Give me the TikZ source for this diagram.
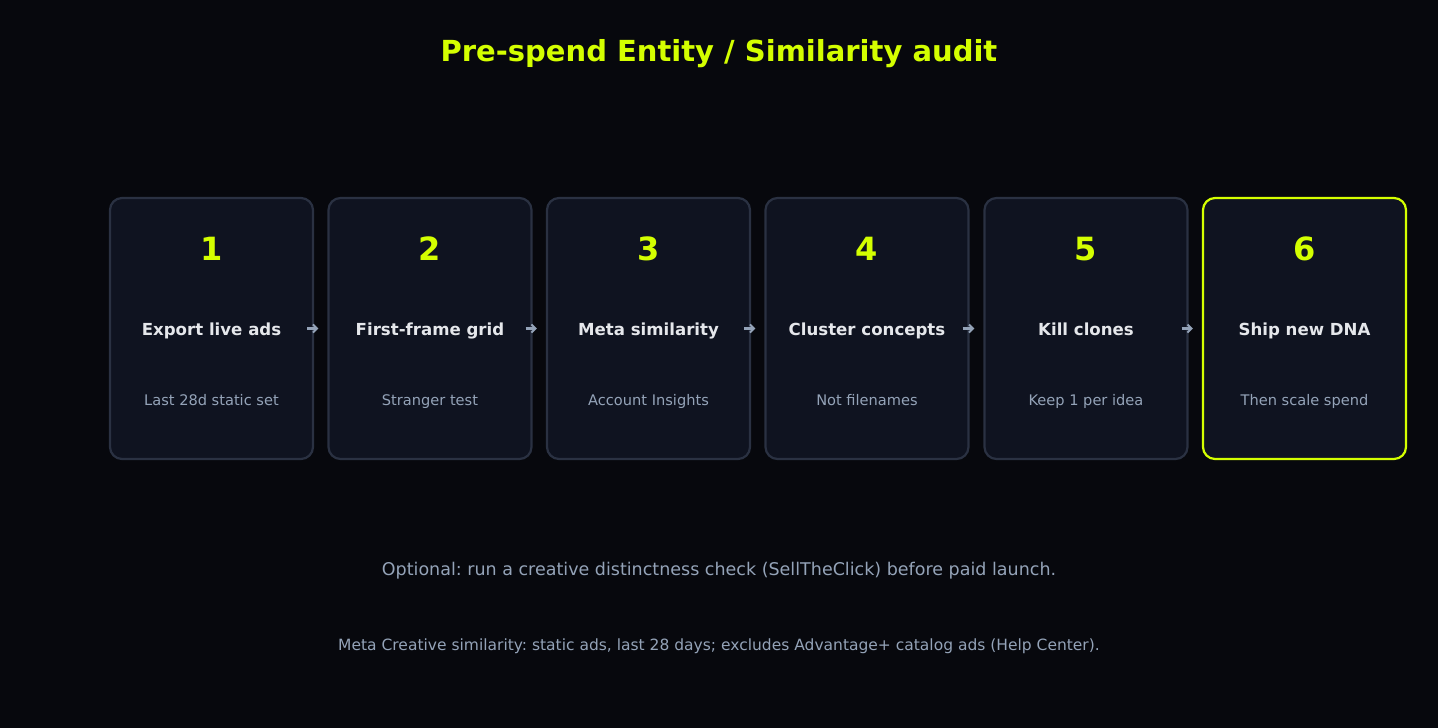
\documentclass[tikz,border=0pt]{standalone}
\usepackage{fontspec}
\setmainfont{DejaVu Sans}
\usepackage{xcolor}
\usetikzlibrary{arrows.meta}
\definecolor{bgcol}{HTML}{07080D}
\definecolor{cardcol}{HTML}{0F1320}
\definecolor{edgecol}{HTML}{2A3142}
\definecolor{limecol}{HTML}{D4FF00}
\definecolor{headcol}{HTML}{E5E7EB}
\definecolor{mutedcol}{HTML}{94A3B8}
\frenchspacing

\begin{document}
\begin{tikzpicture}[x=1pt, y=-1pt,
    card/.style={draw=edgecol, line width=2.2pt, fill=cardcol, rounded corners=12pt,
      minimum width=203pt, minimum height=261pt, inner sep=0pt},
    lastcard/.style={card, draw=limecol},
    num/.style={anchor=base, text=limecol, font=\fontsize{32}{34}\selectfont\bfseries},
    head/.style={anchor=base, text=headcol, font=\fontsize{16.6}{18}\selectfont\bfseries},
    sub/.style={anchor=base, text=mutedcol, font=\fontsize{14.6}{16}\selectfont},
    flow/.style={-{Straight Barb[length=4pt, width=8pt, line width=2pt]}, draw=mutedcol, line width=2.2pt}]
    \fill[bgcol] (0,0) rectangle (1438,728);
    \useasboundingbox (0,0) rectangle (1438,728);
    \node[anchor=base, text=limecol, font=\fontsize{29}{32}\selectfont\bfseries] (title) at (719, 61) {Pre-spend Entity / Similarity audit};
    % cards
    \node[card] (b1) at (211.5, 328.5) {};
    \node[card] (b2) at (430, 328.5) {};
    \node[card] (b3) at (648.5, 328.5) {};
    \node[card] (b4) at (867, 328.5) {};
    \node[card] (b5) at (1086, 328.5) {};
    \node[lastcard] (b6) at (1304.5, 328.5) {};
    % numbers
    \node[num] (n1) at (211.5, 260.5) {1};
    \node[num] (n2) at (430, 260.5) {2};
    \node[num] (n3) at (648.5, 260.5) {3};
    \node[num] (n4) at (867, 260.5) {4};
    \node[num] (n5) at (1086, 260.5) {5};
    \node[num] (n6) at (1304.5, 260.5) {6};
    % step names
    \node[head] (h1) at (211.5, 335) {Export live ads};
    \node[head] (h2) at (430, 335) {First-frame grid};
    \node[head] (h3) at (648.5, 335) {Meta similarity};
    \node[head] (h4) at (867, 335) {Cluster concepts};
    \node[head] (h5) at (1086, 335) {Kill clones};
    \node[head] (h6) at (1304.5, 335) {Ship new DNA};
    % notes
    \node[sub] (s1) at (211.5, 405.5) {Last 28d static set};
    \node[sub] (s2) at (430, 405.5) {Stranger test};
    \node[sub] (s3) at (648.5, 405.5) {Account Insights};
    \node[sub] (s4) at (867, 405.5) {Not filenames};
    \node[sub] (s5) at (1086, 405.5) {Keep 1 per idea};
    \node[sub] (s6) at (1304.5, 405.5) {Then scale spend};
    % arrows
    \draw[flow] ([xshift=-7pt]b1.east) -- ([xshift=-9pt]b2.west);
    \draw[flow] ([xshift=-7pt]b2.east) -- ([xshift=-9pt]b3.west);
    \draw[flow] ([xshift=-7pt]b3.east) -- ([xshift=-9pt]b4.west);
    \draw[flow] ([xshift=-7pt]b4.east) -- ([xshift=-9pt]b5.west);
    \draw[flow] ([xshift=-7pt]b5.east) -- ([xshift=-9pt]b6.west);
    % footer
    \node[anchor=base, text=mutedcol, font=\fontsize{17.5}{20}\selectfont] (opt) at (719, 575.5) {Optional: run a creative distinctness check (SellTheClick) before paid launch.};
    \node[anchor=base, text=mutedcol, font=\fontsize{15.5}{18}\selectfont] (src) at (719, 650.5) {Meta Creative similarity: static ads, last 28 days; excludes Advantage+ catalog ads (Help Center).};
\end{tikzpicture}
\end{document}
